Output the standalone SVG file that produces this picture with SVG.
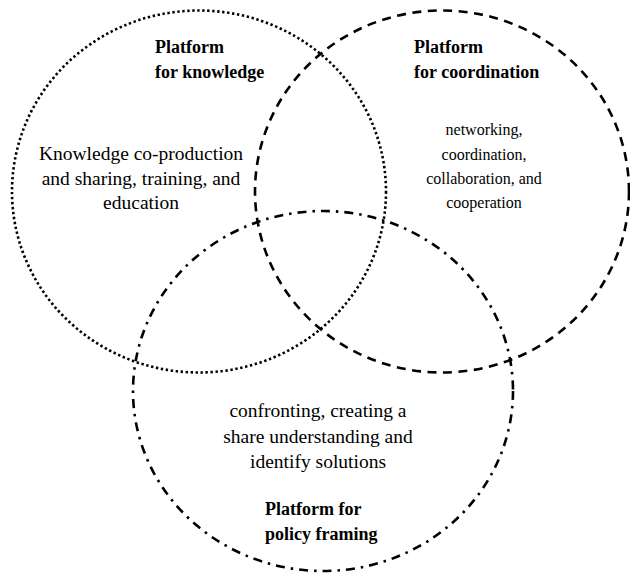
<svg xmlns="http://www.w3.org/2000/svg" width="630" height="573" viewBox="0 0 630 573">
  <style>
    .ring { fill: none; stroke: #000; stroke-width: 2.6; }
    .dotted { stroke-dasharray: 2.4 2.6; }
    .dashed { stroke-dasharray: 9 6.5; }
    .dashdot { stroke-dasharray: 9 6 2.5 6; }
    .title { font-family: "Liberation Serif", "Times New Roman", serif; font-size: 18px; font-weight: bold; fill: #000; }
    .body { font-family: "Liberation Serif", "Times New Roman", serif; font-size: 19.5px; fill: #000; text-anchor: middle; }
    .small { font-size: 16px; }
  </style>
  <rect width="630" height="573" fill="#fff"/>

  <g id="connectors"/>

  <g id="knowledge">
    <ellipse class="ring dotted" cx="199" cy="191.5" rx="187" ry="181"/>
    <text class="title" x="155" y="53">Platform</text>
    <text class="title" x="155" y="78">for knowledge</text>
    <text class="body" x="141" y="160">Knowledge co-production</text>
    <text class="body" x="141" y="185">and sharing, training, and</text>
    <text class="body" x="141" y="209">education</text>
  </g>

  <g id="coordination">
    <ellipse class="ring dashed" cx="442" cy="191.5" rx="187" ry="181"/>
    <text class="title" x="414" y="53">Platform</text>
    <text class="title" x="414" y="78">for coordination</text>
    <text class="body small" x="484" y="135">networking,</text>
    <text class="body small" x="484" y="160">coordination,</text>
    <text class="body small" x="484" y="184">collaboration, and</text>
    <text class="body small" x="484" y="208">cooperation</text>
  </g>

  <g id="policy">
    <ellipse class="ring dashdot" cx="323" cy="391" rx="190" ry="180"/>
    <text class="body" x="318" y="417">confronting, creating a</text>
    <text class="body" x="318" y="443">share understanding and</text>
    <text class="body" x="318" y="468">identify solutions</text>
    <text class="title" x="265" y="515">Platform for</text>
    <text class="title" x="265" y="540">policy framing</text>
  </g>
</svg>
